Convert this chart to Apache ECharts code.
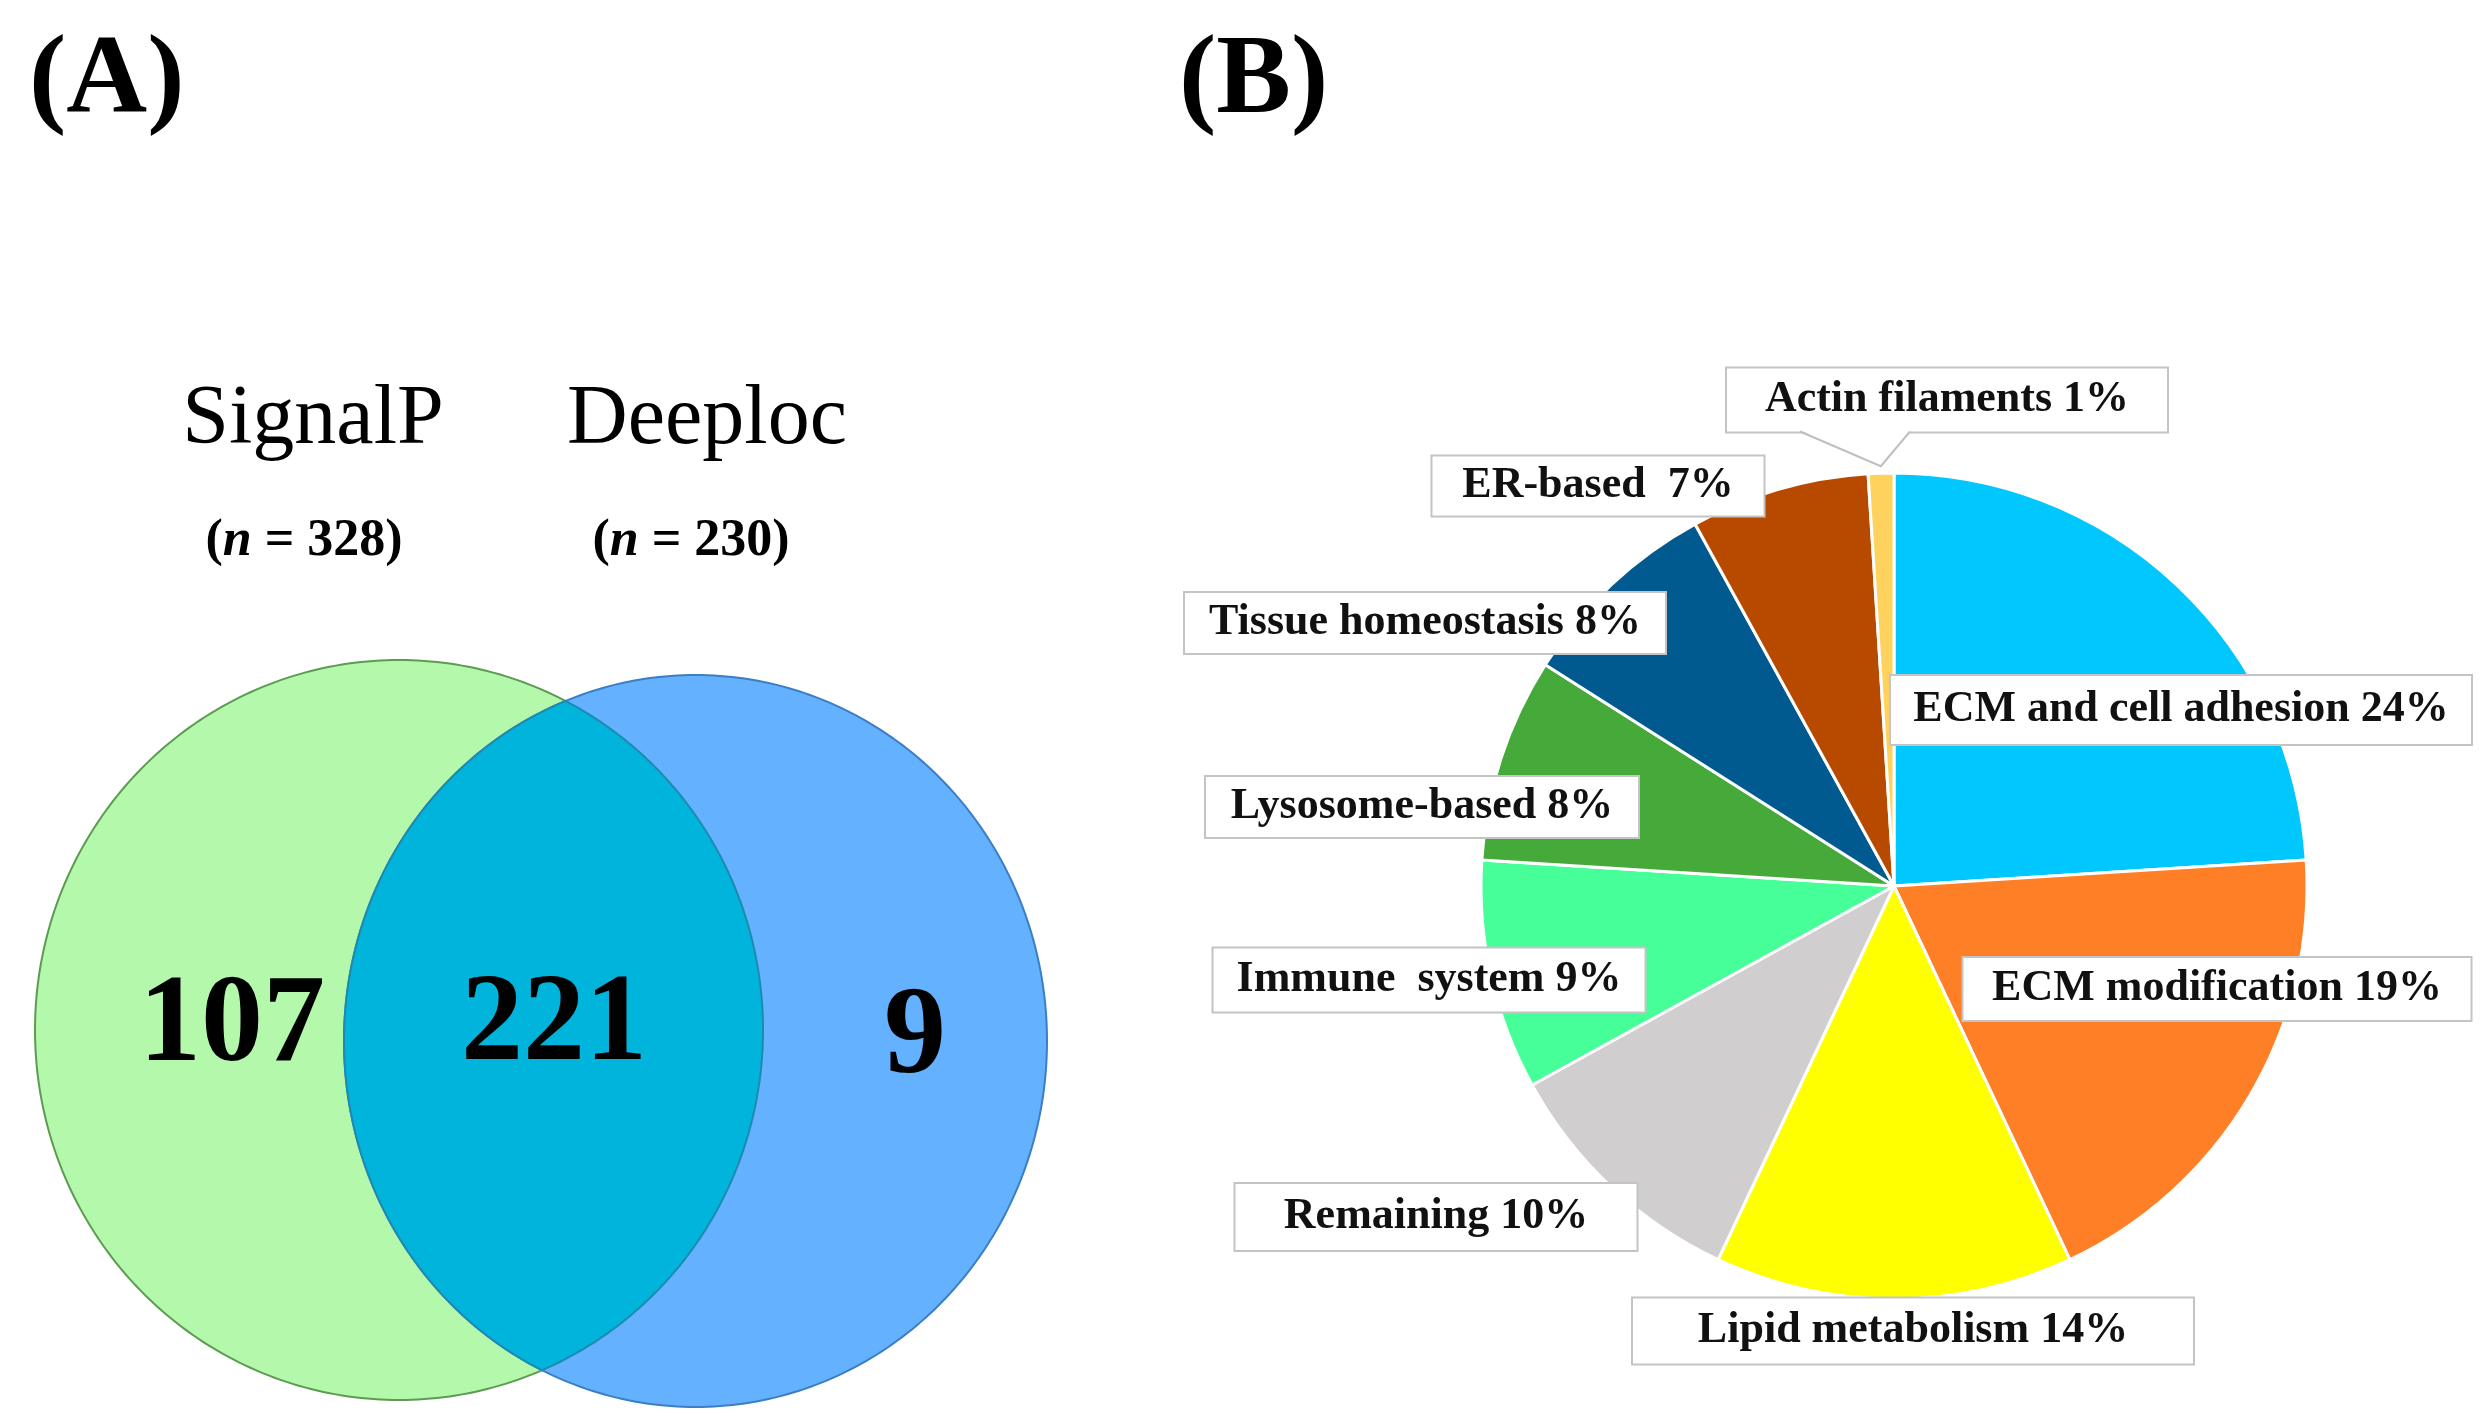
<!DOCTYPE html>
<html>
<head>
<meta charset="utf-8">
<script src="https://cdn.jsdelivr.net/npm/echarts@6/dist/echarts.min.js"></script>
<style>
html,body{margin:0;padding:0;background:#ffffff;}
#c{width:2492px;height:1427px;}
</style>
</head>
<body>
<div id="c"></div>
<script>
// ---------------- DATA ----------------
const panelLetters = ['(A)', '(B)'];

const vennSetNames = ['SignalP', 'Deeploc'];
const vennSetSizes = [328, 230];
const vennRegionNames = ['SignalP only', 'Both', 'Deeploc only'];
const vennRegionCounts = [107, 221, 9];

const pieCategories = ['ECM and cell adhesion', 'ECM modification', 'Lipid metabolism', 'Remaining',
  'Immune  system', 'Lysosome-based', 'Tissue homeostasis', 'ER-based ', 'Actin filaments'];
const pieValues = [24, 19, 14, 10, 9, 8, 8, 7, 1];

// ---------------- STYLE / LAYOUT ----------------
const pieColors = ['#00C8FF', '#FF7F27', '#FFFF00', '#D0CECE', '#47FF99', '#45AA3A', '#005A8F', '#B84A00', '#FFD25E'];
const pieCenter = [1894, 886];
const pieRadius = 413;
const labelCenters = [[2181, 710], [2217, 989], [1913, 1331], [1436, 1217], [1429, 980], [1422, 807], [1425, 623], [1598, 486], [1947, 400]];
const labelBoxes = [[580, 68], [507, 62], [560, 65], [401, 66], [431, 63], [432, 60], [480, 60], [331, 59], [440, 63]];

const SERIF = "'Liberation Serif', 'Times New Roman', 'DejaVu Serif', serif";

const G = {cx: 399, cy: 1030, rx: 364, ry: 370};
const B = {cx: 695.5, cy: 1041, rx: 351.5, ry: 366};
const vennCountPos = [[232, 1028], [554, 1027], [915, 1040]];
const vennNamePos = [[313, 421], [707, 421]];
const vennSizePos = [[304, 542], [691, 542]];

// ---------------- GEOMETRY HELPERS ----------------
function ellPts(e, t0, t1, n) {
  const pts = [];
  for (let i = 0; i <= n; i++) {
    const t = t0 + (t1 - t0) * i / n;
    pts.push([e.cx + e.rx * Math.cos(t), e.cy + e.ry * Math.sin(t)]);
  }
  return pts;
}
function fB(t) {
  const x = G.cx + G.rx * Math.cos(t), y = G.cy + G.ry * Math.sin(t);
  const a = (x - B.cx) / B.rx, b = (y - B.cy) / B.ry;
  return a * a + b * b - 1;
}
const roots = [];
{
  const N = 3600;
  let prev = fB(-Math.PI);
  for (let i = 1; i <= N; i++) {
    const t0 = -Math.PI + 2 * Math.PI * (i - 1) / N, t1 = -Math.PI + 2 * Math.PI * i / N;
    const cur = fB(t1);
    if ((prev <= 0) !== (cur <= 0)) {
      let lo = t0, hi = t1;
      for (let k = 0; k < 50; k++) {
        const m = (lo + hi) / 2;
        if ((fB(lo) <= 0) === (fB(m) <= 0)) lo = m; else hi = m;
      }
      roots.push((lo + hi) / 2);
    }
    prev = cur;
  }
}
roots.sort((a, b) => a - b);
const tA = roots[0], tB = roots[1]; // top (negative), bottom (positive)
const pA = [G.cx + G.rx * Math.cos(tA), G.cy + G.ry * Math.sin(tA)];
const pB = [G.cx + G.rx * Math.cos(tB), G.cy + G.ry * Math.sin(tB)];
const sA = Math.atan2((pA[1] - B.cy) / B.ry, (pA[0] - B.cx) / B.rx);
const sB = Math.atan2((pB[1] - B.cy) / B.ry, (pB[0] - B.cx) / B.rx);
const lensPts = ellPts(G, tA, tB, 200).concat(ellPts(B, sB, sA + 2 * Math.PI, 200).slice(1));

// Callout tail for the smallest slice label
const last = pieValues.length - 1;
const total = pieValues.reduce((a, b) => a + b, 0);
const before = pieValues.slice(0, last).reduce((a, b) => a + b, 0);
const midAng = (before + pieValues[last] / 2) / total * 2 * Math.PI;
const tip = [pieCenter[0] + (pieRadius + 7) * Math.sin(midAng), pieCenter[1] - (pieRadius + 7) * Math.cos(midAng)];
const boxBottom = labelCenters[last][1] + labelBoxes[last][1] / 2;
const tailL = [labelCenters[last][0] - 147, boxBottom];
const tailR = [labelCenters[last][0] - 37, boxBottom];

// ---------------- GRAPHIC ELEMENTS ----------------
const elements = [];
elements.push({type: 'text', x: 29, y: 83, z: 10, style: {text: panelLetters[0], font: 'bold 112px ' + SERIF, fill: '#000', textVerticalAlign: 'middle', textAlign: 'left'}});
elements.push({type: 'text', x: 1179, y: 83, z: 10, style: {text: panelLetters[1], font: 'bold 112px ' + SERIF, fill: '#000', textVerticalAlign: 'middle', textAlign: 'left'}});

elements.push({type: 'polygon', z: 1, shape: {points: ellPts(G, 0, 2 * Math.PI, 360)}, style: {fill: '#B4F8AC', stroke: '#5D9B52', lineWidth: 2}});
elements.push({type: 'polygon', z: 2, shape: {points: ellPts(B, 0, 2 * Math.PI, 360)}, style: {fill: '#63B1FF', stroke: '#3C7EC4', lineWidth: 2}});
elements.push({type: 'polygon', z: 3, shape: {points: lensPts}, style: {fill: '#00B4DC', stroke: '#1E8AB0', lineWidth: 2}});

vennSetNames.forEach((n, i) => {
  elements.push({type: 'text', x: vennNamePos[i][0], y: vennNamePos[i][1], z: 10,
    style: {text: n, font: '84px ' + SERIF, fill: '#000', textAlign: 'center', textVerticalAlign: 'middle'}});
  elements.push({type: 'text', x: vennSizePos[i][0], y: vennSizePos[i][1], z: 10,
    style: {text: '{a|(}{b|n}{a| = ' + vennSetSizes[i] + ')}', textAlign: 'center', textVerticalAlign: 'middle',
      rich: {a: {fontFamily: SERIF, fontWeight: 'bold', fontSize: 52, fill: '#000', color: '#000'},
             b: {fontFamily: SERIF, fontWeight: 'bold', fontStyle: 'italic', fontSize: 52, fill: '#000', color: '#000'}}}});
});
vennRegionCounts.forEach((v, i) => {
  elements.push({type: 'text', x: vennCountPos[i][0], y: vennCountPos[i][1], z: 10, name: vennRegionNames[i],
    style: {text: String(v), font: 'bold 124px ' + SERIF, fill: '#000', textAlign: 'center', textVerticalAlign: 'middle'}});
});

elements.push({type: 'polygon', z: 100, shape: {points: [[tailL[0], boxBottom - 1.5], tip, [tailR[0], boxBottom - 1.5]]}, style: {fill: '#fff'}});
elements.push({type: 'polyline', z: 101, shape: {points: [tailL, tip, tailR]}, style: {stroke: '#BFBFBF', lineWidth: 2, fill: null}});

// ---------------- CHART ----------------
const chart = echarts.init(document.getElementById('c'), null, {renderer: 'canvas', width: 2492, height: 1427});
chart.setOption({
  animation: false,
  backgroundColor: '#ffffff',
  graphic: {elements: elements},
  series: [{
    type: 'pie',
    center: pieCenter,
    radius: pieRadius,
    startAngle: 90,
    clockwise: true,
    avoidLabelOverlap: false,
    silent: true,
    itemStyle: {borderColor: '#ffffff', borderWidth: 3},
    label: {
      show: true,
      position: 'outside',
      formatter: p => p.name + ' ' + p.value + '%',
      fontFamily: SERIF,
      fontWeight: 'bold',
      fontSize: 44,
      color: '#111',
      backgroundColor: '#ffffff',
      borderColor: '#C4C4C4',
      borderWidth: 2,
      padding: 0,
      align: 'center',
      verticalAlign: 'middle'
    },
    labelLine: {show: false},
    labelLayout: function (params) {
      const i = params.dataIndex;
      return {x: labelCenters[i][0], y: labelCenters[i][1], align: 'center', verticalAlign: 'middle'};
    },
    data: pieCategories.map((n, i) => ({
      name: n,
      value: pieValues[i],
      itemStyle: {color: pieColors[i]},
      label: {width: labelBoxes[i][0], lineHeight: labelBoxes[i][1], height: labelBoxes[i][1]}
    }))
  }]
});
</script>
</body>
</html>
